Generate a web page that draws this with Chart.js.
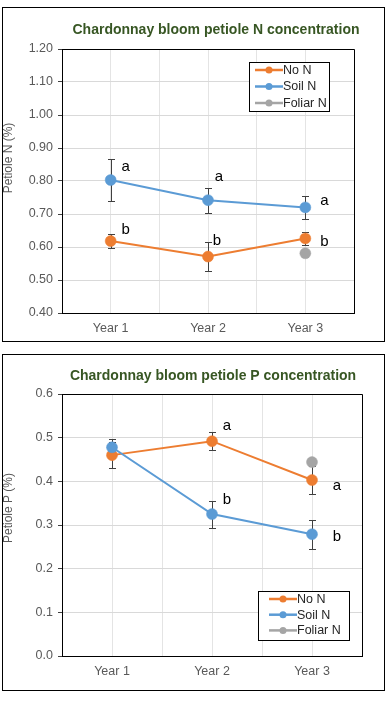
<!DOCTYPE html>
<html>
<head>
<meta charset="utf-8">
<script src="https://cdn.jsdelivr.net/npm/chart.js@4.4.1/dist/chart.umd.min.js"></script>
<style>
body { margin:0; background:#fff; width:389px; height:706px; position:relative; }
.box { position:absolute; left:2px; width:383px; border:1px solid #000; box-sizing:border-box; background:#fff; }
#box1 { top:7px; height:335px; }
#box2 { top:354px; height:337px; }
canvas { display:block; }
</style>
</head>
<body>
<div class="box" id="box1"><canvas id="chartN" width="381" height="333"></canvas></div>
<div class="box" id="box2"><canvas id="chartP" width="381" height="335"></canvas></div>
<script>
var years = ['Year 1', 'Year 2', 'Year 3'];
var seriesNames = ['No N', 'Soil N', 'Foliar N'];
var seriesColors = ['#ed7d31', '#5b9bd5', '#a5a5a5'];

// petiole N (%)
var nNoN = [0.618, 0.571, 0.626];
var nNoNErr = [0.020, 0.044, 0.019];
var nSoil = [0.803, 0.742, 0.720];
var nSoilErr = [0.064, 0.038, 0.034];
var nFoliar = [null, null, 0.581];
var nNoNLetters = ['b', 'b', 'b'];
var nSoilLetters = ['a', 'a', 'a'];

// petiole P (%)
var pNoN = [0.460, 0.492, 0.403];
var pNoNErr = [0.030, 0.021, 0.031];
var pSoil = [0.478, 0.325, 0.279];
var pSoilErr = [0.018, 0.031, 0.033];
var pFoliar = [null, null, 0.444];
var pNoNLetters = ['', 'a', 'a'];
var pSoilLetters = ['', 'b', 'b'];

var FONT = '"Liberation Sans", Arial, sans-serif';
Chart.defaults.font.family = FONT;

function toPoints(arr) {
    return arr.map(function (v, i) { return { x: i + 1, y: v }; });
}

// draws plot frame, error bars, title, axis title, legend and letters
var extras = {
    id: 'extras',
    beforeDatasetsDraw: function (chart, args, o) {
        var ctx = chart.ctx, a = chart.chartArea;
        var xs = chart.scales.x, ys = chart.scales.y;
        ctx.save();
        ctx.strokeStyle = '#000';
        ctx.lineWidth = 1;
        ctx.beginPath();
        ctx.moveTo(Math.round(a.left) + 0.5, Math.round(a.top) + 0.5);
        ctx.lineTo(Math.round(a.right) + 0.5, Math.round(a.top) + 0.5);
        ctx.lineTo(Math.round(a.right) + 0.5, Math.round(a.bottom) + 0.5);
        ctx.stroke();

        ctx.strokeStyle = '#404040';
        o.errors.forEach(function (e) {
            e.values.forEach(function (v, i) {
                if (v == null) return;
                var px = Math.round(xs.getPixelForValue(i + 1)) + 0.5;
                var t = Math.round(ys.getPixelForValue(v + e.err[i])) + 0.5;
                var b = Math.round(ys.getPixelForValue(v - e.err[i])) + 0.5;
                ctx.beginPath();
                ctx.moveTo(px, t); ctx.lineTo(px, b);
                ctx.moveTo(px - 3.5, t); ctx.lineTo(px + 3.5, t);
                ctx.moveTo(px - 3.5, b); ctx.lineTo(px + 3.5, b);
                ctx.stroke();
            });
        });
        ctx.restore();
    },
    afterDraw: function (chart, args, o) {
        var ctx = chart.ctx;
        var xs = chart.scales.x, ys = chart.scales.y;
        ctx.save();
        // title
        ctx.fillStyle = '#375623';
        ctx.font = 'bold 14px ' + FONT;
        ctx.textAlign = 'center';
        ctx.textBaseline = 'middle';
        ctx.fillText(o.title, o.titleX, o.titleY);

        // y axis title
        ctx.save();
        ctx.translate(o.yTitleX, o.yTitleY);
        ctx.rotate(-Math.PI / 2);
        ctx.fillStyle = '#595959';
        ctx.font = '12px ' + FONT;
        ctx.fillText(o.yTitle, 0, 0);
        ctx.restore();

        // letters
        ctx.fillStyle = '#000';
        ctx.font = '15px ' + FONT;
        o.letters.forEach(function (l) {
            l.text.forEach(function (t, i) {
                if (!t) return;
                var px = xs.getPixelForValue(i + 1) + l.off[i][0];
                var py = ys.getPixelForValue(l.values[i]) + l.off[i][1];
                ctx.fillText(t, px, py);
            });
        });

        // legend
        var lg = o.legend;
        ctx.fillStyle = '#fff';
        ctx.fillRect(lg.x, lg.y, lg.w, lg.h);
        ctx.strokeStyle = '#000';
        ctx.lineWidth = 1;
        ctx.strokeRect(lg.x + 0.5, lg.y + 0.5, lg.w, lg.h);
        ctx.font = '12.5px ' + FONT;
        ctx.textAlign = 'left';
        seriesNames.forEach(function (name, i) {
            var yy = lg.y + lg.rowTop + i * lg.rowH;
            ctx.strokeStyle = seriesColors[i];
            ctx.lineWidth = 2.5;
            ctx.beginPath();
            ctx.moveTo(lg.lineX, yy);
            ctx.lineTo(lg.lineX + 28, yy);
            ctx.stroke();
            ctx.fillStyle = seriesColors[i];
            ctx.beginPath();
            ctx.arc(lg.lineX + 14, yy, 3.5, 0, Math.PI * 2);
            ctx.fill();
            ctx.fillStyle = '#262626';
            ctx.fillText(name, lg.lineX + 28, yy + 0.5);
        });
        ctx.restore();
    }
};

function makeDatasets(noN, soil, foliar) {
    var all = [noN, soil, foliar];
    return all.map(function (arr, i) {
        return {
            label: seriesNames[i],
            data: toPoints(arr),
            borderColor: seriesColors[i],
            backgroundColor: seriesColors[i],
            pointBackgroundColor: seriesColors[i],
            pointBorderColor: seriesColors[i],
            borderWidth: 2,
            pointRadius: 5.5,
            pointHoverRadius: 5.5,
            pointBorderWidth: 0.5,
            showLine: i < 2,
            fill: false,
            order: [2, 1, 0][i]
        };
    });
}

function makeOptions(yMin, yMax, dec, pad, xHeight, extra) {
    return {
        responsive: false,
        animation: false,
        events: [],
        layout: { padding: pad },
        plugins: {
            legend: { display: false },
            title: { display: false },
            tooltip: { enabled: false },
            extras: extra
        },
        scales: {
            x: {
                type: 'linear',
                min: 0.5,
                max: 3.5,
                afterFit: function (s) { s.height = xHeight; },
                ticks: {
                    stepSize: 0.5,
                    autoSkip: false,
                    maxRotation: 0,
                    padding: 8,
                    color: '#595959',
                    font: { size: 12.5 },
                    callback: function (v) { return Number.isInteger(v) ? years[v - 1] : ''; }
                },
                grid: { color: '#e4e4e4', drawTicks: false },
                border: { color: '#000' }
            },
            y: {
                min: yMin,
                max: yMax,
                afterFit: function (s) { s.width = 59; },
                ticks: {
                    stepSize: 0.1,
                    padding: 5,
                    color: '#595959',
                    font: { size: 12.5 },
                    callback: function (v) { return v.toFixed(dec); }
                },
                grid: { color: '#d9d9d9', tickLength: 4, tickColor: '#404040' },
                border: { color: '#000' }
            }
        }
    };
}

new Chart(document.getElementById('chartN'), {
    type: 'line',
    data: { datasets: makeDatasets(nNoN, nSoil, nFoliar) },
    options: makeOptions(0.4, 1.2, 2, { top: 41, right: 30, left: 0, bottom: 0 }, 28, {
        title: 'Chardonnay bloom petiole N concentration',
        titleX: 213, titleY: 22,
        yTitle: 'Petiole N (%)', yTitleX: 6, yTitleY: 150,
        errors: [{ values: nNoN, err: nNoNErr }, { values: nSoil, err: nSoilErr }],
        letters: [
            { text: nSoilLetters, values: nSoil, off: [[15, -13], [11, -23], [19, -7]] },
            { text: nNoNLetters, values: nNoN, off: [[15, -11], [9, -16], [19, 3]] }
        ],
        legend: { x: 246, y: 54, w: 80, h: 49, lineX: 252, rowTop: 8, rowH: 16.5 }
    }),
    plugins: [extras]
});

new Chart(document.getElementById('chartP'), {
    type: 'line',
    data: { datasets: makeDatasets(pNoN, pSoil, pFoliar) },
    options: makeOptions(0, 0.6, 1, { top: 39, right: 22, left: 0, bottom: 0 }, 34, {
        title: 'Chardonnay bloom petiole P concentration',
        titleX: 210, titleY: 21,
        yTitle: 'Petiole P (%)', yTitleX: 6, yTitleY: 153,
        errors: [{ values: pNoN, err: pNoNErr }, { values: pSoil, err: pSoilErr }],
        letters: [
            { text: pNoNLetters, values: pNoN, off: [null, [15, -15], [25, 6]] },
            { text: pSoilLetters, values: pSoil, off: [null, [15, -14], [25, 3]] }
        ],
        legend: { x: 255, y: 236, w: 91, h: 49, lineX: 266, rowTop: 8, rowH: 15.7 }
    }),
    plugins: [extras]
});
</script>
</body>
</html>
